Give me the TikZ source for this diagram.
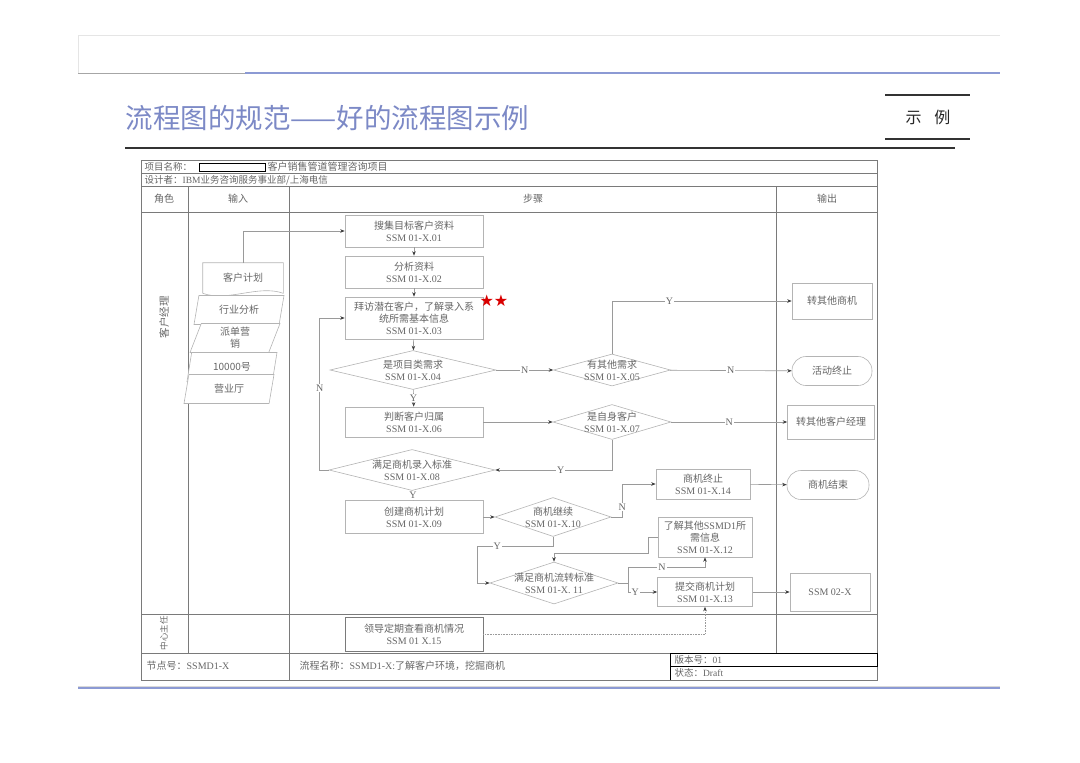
\documentclass[tikz,border=0pt]{standalone}
\usepackage{fontspec}
\setmainfont{Noto Sans CJK SC}
\newfontfamily\latin{Liberation Serif}
\newfontfamily\symfont{DejaVu Sans}
\usepackage{xcolor}
\usetikzlibrary{shapes.geometric, positioning, arrows.meta}

\definecolor{boxgray}{HTML}{B4B4B4}
\definecolor{linegray}{HTML}{9A9A9A}
\definecolor{textgray}{HTML}{666666}
\definecolor{framegray}{HTML}{7A7A7A}
\definecolor{titleblue}{HTML}{7C89C6}
\definecolor{ruleblue}{HTML}{8C9AD4}

\newcommand{\ssm}[1]{{\latin SSM #1}}

\begin{document}
\begin{tikzpicture}[
        x=1pt, y=-1pt,
        >={Stealth[length=4.5pt,width=3.5pt,color=black!75]},
        line width=0.6pt,
        every node/.style={text=textgray, font=\fontsize{10}{12}\selectfont},
        % Style for the step boxes
        stepbox/.style={rectangle, draw=boxgray, fill=white, align=center, inner sep=1pt, minimum width=138},
        % Style for the decisions (text is set on top)
        decision/.style={diamond, draw=boxgray, fill=white, inner sep=0pt},
        dtext/.style={align=center, inner sep=0pt},
        % Style for the outputs
        outbox/.style={rectangle, draw=boxgray, fill=white, align=center, minimum width=80, minimum height=34},
        endbox/.style={outbox, rounded corners=14},
        % Style for the inputs
        inbox/.style={trapezium, trapezium left angle=62, trapezium right angle=118,
            trapezium stretches body, draw=boxgray, fill=white, minimum width=90,
            minimum height=29, inner sep=0pt, align=center},
        flow/.style={draw=linegray, ->},
        lab/.style={fill=white, inner sep=1pt, font=\latin\fontsize{10}{12}\selectfont},
        rule/.style={draw=framegray, line width=0.8pt}
    ]
    \useasboundingbox (0,0) rectangle (1080,763);

    % --- Page head ---
    \draw[black!10] (78,73) -- (78,35) -- (1000,35);
    \draw[black!35, line width=1pt] (78,73) -- (245,73);
    \draw[ruleblue, line width=1.3pt] (245,73) -- (1000,73);
    \node[anchor=west, text=titleblue, font=\fontsize{27.5}{32}\selectfont] (title) at (122,118) {流程图的规范——好的流程图示例};
    \draw[black!80, line width=1.2pt] (125,148) -- (955,148);
    \draw[black!80, line width=1.1pt] (885,95) -- (970,95);
    \draw[black!80, line width=1.1pt] (885,139) -- (970,139);
    \node[text=black!85, font=\fontsize{16}{20}\selectfont] (tag) at (928,117) {示\hspace{0.8em}例};
    \draw[black!15] (78,686) -- (1000,686);
    \draw[ruleblue, line width=1.3pt] (78,688) -- (1000,688);

    % --- Frame of the table ---
    \draw[rule] (141,160) rectangle (877,680);
    \draw[rule] (141,173) -- (877,173);
    \draw[rule] (141,186) -- (877,186);
    \draw[rule] (141,212) -- (877,212);
    \draw[rule] (141,614) -- (877,614);
    \draw[rule] (141,653) -- (877,653);
    \draw[rule] (188,186) -- (188,653);
    \draw[rule] (289,186) -- (289,680);
    \draw[rule] (776,186) -- (776,653);
    \draw[black, line width=0.8pt] (670,653) rectangle (877,666);
    \draw[black, line width=0.8pt] (670,666) -- (670,680);
    \draw[black, line width=0.7pt] (199,163) rectangle (265,171);

    \node[anchor=west, font=\fontsize{9.5}{11}\selectfont] (pname) at (141,167) {项目名称：};
    \node[anchor=west, font=\fontsize{10}{11}\selectfont] (pproj) at (264,167) {客户销售管道管理咨询项目};
    \node[anchor=west, font=\fontsize{9.5}{11}\selectfont] (pdesign) at (141,180) {设计者：{\latin IBM}业务咨询服务事业部/上海电信};
    \node (hrole) at (164,199) {角色};
    \node (hin) at (238,199) {输入};
    \node (hstep) at (533,199) {步骤};
    \node (hout) at (827,199) {输出};
    \node[rotate=90, font=\fontsize{10.5}{12}\selectfont] (lane1) at (164,317) {客户经理};
    \node[rotate=90, font=\fontsize{8.5}{10}\selectfont] (lane2) at (164,633) {中心主任};
    \node[anchor=west] (fnode) at (143,666) {节点号：{\latin SSMD1-X}};
    \node[anchor=west] (fname) at (296,666) {流程名称：{\latin SSMD1-X:}了解客户环境，挖掘商机};
    \node[anchor=west, font=\fontsize{9.5}{11}\selectfont] (fver) at (671,660) {版本号：{\latin 01}};
    \node[anchor=west, font=\fontsize{9.5}{11}\selectfont] (fstate) at (671,673) {状态：{\latin Draft}};

    % --- Inputs ---
    \node[minimum width=80, minimum height=30] (in1) at (243,278) {客户计划};
    \draw[boxgray] (in1.south west) -- (in1.north west) -- (in1.north east) -- (in1.south east)
        .. controls +(-25,-9) and +(25,9) .. (in1.south west);
    \node[inbox] (in2) at (239,310) {行业分析};
    \node[inbox] (in3) at (235,338) {派单营\\销};
    \node[inbox] (in4) at (232,367) {10000号};
    \node[inbox] (in5) at (229,389) {营业厅};

    % --- Steps ---
    \node[stepbox, minimum height=32] (s01) at (414,231) {搜集目标客户资料\\\ssm{01-X.01}};
    \node[stepbox, minimum height=32] (s02) at (414,272) {分析资料\\\ssm{01-X.02}};
    \node[stepbox, minimum height=42] (s03) at (414,318) {拜访潜在客户，了解录入系\\统所需基本信息\\\ssm{01-X.03}};
    \node[text=red!85!black, font=\symfont\fontsize{16}{16}\selectfont, inner sep=0pt] (stars) at (494,301) {★★};
    \node[decision, minimum width=166, minimum height=39] (d04) at (413,370) {};
    \node[dtext] (d04t) at (d04) {是项目类需求\\\ssm{01-X.04}};
    \node[stepbox, minimum height=30] (s06) at (414,422) {判断客户归属\\\ssm{01-X.06}};
    \node[decision, minimum width=166, minimum height=41] (d08) at (412,470) {};
    \node[dtext] (d08t) at (d08) {满足商机录入标准\\\ssm{01-X.08}};
    \node[stepbox, minimum height=33] (s09) at (414,517) {创建商机计划\\\ssm{01-X.09}};
    \node[decision, minimum width=117, minimum height=32] (d05) at (612,370) {};
    \node[dtext] (d05t) at (d05) {有其他需求\\\ssm{01-X.05}};
    \node[decision, minimum width=118, minimum height=35] (d07) at (612,422) {};
    \node[dtext] (d07t) at (d07) {是自身客户\\\ssm{01-X.07}};
    \node[decision, minimum width=116, minimum height=39] (d10) at (553,517) {};
    \node[dtext] (d10t) at (d10) {商机继续\\\ssm{01-X.10}};
    \node[decision, minimum width=128, minimum height=42] (d11) at (554,583) {};
    \node[dtext] (d11t) at (d11) {满足商机流转标准\\\ssm{01-X.\ 11}};
    \node[stepbox, minimum width=94, minimum height=30] (s14) at (703,484) {商机终止\\\ssm{01-X.14}};
    \node[stepbox, minimum width=94, minimum height=40] (s12) at (705,537) {了解其他{\latin SSMD1}所\\需信息\\\ssm{01-X.12}};
    \node[stepbox, minimum width=95, minimum height=29] (s13) at (705,592) {提交商机计划\\\ssm{01-X.13}};
    \node[stepbox, draw=framegray, minimum height=34] (s15) at (414,634) {领导定期查看商机情况\\\ssm{01 X.15}};

    % --- Outputs ---
    \node[outbox, minimum height=36] (o1) at (832,301) {转其他商机};
    \node[endbox, minimum height=29] (o2) at (832,371) {活动终止};
    \node[outbox, minimum width=87] (o3) at (831,422) {转其他客户经理};
    \node[endbox, minimum width=82, minimum height=29] (o4) at (828,485) {商机结束};
    \node[outbox, minimum height=38] (o5) at (830,592) {{\latin SSM 02-X}};

    % --- Connectors ---
    \draw[flow] (in1.north) |- (s01.west);
    \draw[flow] (s01) -- (s02);
    \draw[flow] (s02) -- (s03);
    \draw[flow] (s03) -- (d04);
    \draw[flow] (d04) -- node[lab]{N} (d05);
    \draw[flow] (d04) -- node[lab]{Y} (s06);
    \draw[flow] (d05.north) |- node[lab, pos=0.66]{Y} (o1.west);
    \draw[flow] (d05) -- node[lab]{N} (o2);
    \draw[flow] (s06) -- (d07);
    \draw[flow] (d07) -- node[lab]{N} (o3);
    \draw[flow] (d07.south) |- node[lab, pos=0.72]{Y} (d08.east);
    \draw[flow] (d08.west) -- ++(-9,0) |- node[lab, pos=0.27]{N} (s03.west);
    \draw[flow] (d08) -- node[lab]{Y} (s09);
    \draw[flow] (s09) -- (d10);
    \draw[flow] (d10.east) -- ++(11,0) |- node[lab, pos=0.15]{N} (s14.west);
    \draw[flow] (d10.south) -- ++(0,9) -| node[lab, pos=0.37]{Y} ([xshift=-12pt]d11.west) -- (d11.west);
    \draw[flow] (s12.west) -- ++(-9,0) -- ++(0,16) -| (d11.north);
    \draw[linegray] (d11.east) -- ++(10,0) coordinate (split);
    \draw[flow] (split) |- node[lab, pos=0.72]{N} ([yshift=-10pt]s12.south) -- (s12.south);
    \draw[flow] (split) |- node[lab, pos=0.62]{Y} (s13.west);
    \draw[flow] (s14) -- (o4);
    \draw[flow] (s13) -- (o5);
    \draw[flow, densely dotted] (s15.east) -| (s13.south);

\end{tikzpicture}
\end{document}
